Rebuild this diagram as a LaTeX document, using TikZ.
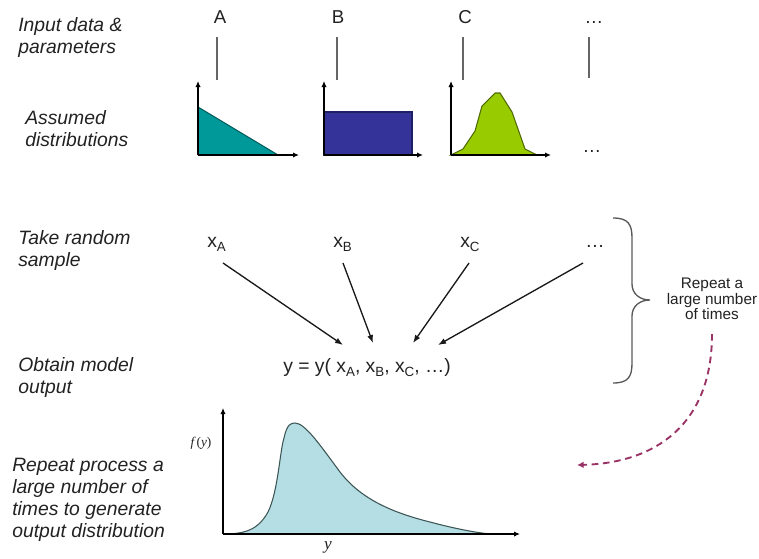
\documentclass[tikz,border=0pt]{standalone}
\usepackage{fontspec}
\setmainfont{Liberation Sans}
\newfontfamily\serifit{Liberation Serif}
\usetikzlibrary{arrows.meta}
\definecolor{txt}{HTML}{222222}
\definecolor{tealA}{HTML}{009999}
\definecolor{tealAline}{HTML}{005E5E}
\definecolor{blueB}{HTML}{333399}
\definecolor{blueBline}{HTML}{1F1F66}
\definecolor{greenC}{HTML}{99CC00}
\definecolor{greenCline}{HTML}{4F6A00}
\definecolor{outfill}{RGB}{180,222,228}
\definecolor{outline}{HTML}{3D5555}
\definecolor{dashcol}{HTML}{993366}
\tikzset{
  sidelabel/.style={anchor=north west,inner sep=0pt,align=left,text=txt,
    font=\fontsize{14.5pt}{16.5pt}\selectfont\itshape},
  toplabel/.style={anchor=base,inner sep=0pt,text=txt,font=\fontsize{14pt}{16pt}\selectfont},
  samplelabel/.style={anchor=base west,inner sep=0pt,text=txt,font=\fontsize{14.5pt}{16.5pt}\selectfont},
  tickline/.style={draw=black!60,line width=0.8pt},
  axis/.style={draw=black,line width=1pt,-{Latex[length=4.5pt,width=4pt]}},
  flow/.style={draw=black!90,line width=1pt,-{Latex[length=6pt,width=4.5pt]}},
}
\newcommand{\sub}[1]{\raisebox{-0.25em}{\fontsize{10pt}{12pt}\selectfont #1}}
\begin{document}
\begin{tikzpicture}[x=0.75pt,y=-0.75pt]
\useasboundingbox (0,0) rectangle (759,558);

% left labels
\node[sidelabel] (l1) at (18,17) {Input data \&\\parameters};
\node[sidelabel] (l2) at (25,110) {Assumed\\distributions};
\node[sidelabel] (l3) at (18,230) {Take random\\sample};
\node[sidelabel] (l4) at (18,357) {Obtain model\\output};
\node[sidelabel] (l5) at (12,458) {Repeat process a\\large number of\\times to generate\\output distribution};

% top labels
\node[toplabel] (A) at (220,23) {A};
\node[toplabel] (B) at (338,23) {B};
\node[toplabel] (C) at (465,23) {C};
\node[toplabel] (D) at (594,23) {…};

\draw[tickline] (217,37) -- (217,80);
\draw[tickline] (337,37) -- (337,80);
\draw[tickline] (463,37) -- (463,80);
\draw[tickline] (589,37) -- (589,78);

% chart A
\fill[tealA] (198,155) -- (198,107) -- (278,155) -- cycle;
\draw[tealAline,line width=0.8pt] (198,107) -- (278,155);
\draw[axis] (198,155) -- (198,81);
\draw[axis] (198,155) -- (299,155);

% chart B
\filldraw[fill=blueB,draw=blueBline,line width=0.8pt] (324,155) rectangle (412,112);
\draw[axis] (324,155) -- (324,81);
\draw[axis] (324,155) -- (423,155);

% chart C
\filldraw[fill=greenC,draw=greenCline,line width=0.8pt]
  (451,155) -- (463,149) -- (475,131) -- (482,106) -- (495,93) -- (500,93)
  -- (512,112) -- (525,149) -- (537,155) -- cycle;
\draw[axis] (451,155) -- (451,81);
\draw[axis] (451,155) -- (551,155);
\node[toplabel] (D2) at (592,152) {…};

% samples
\node[samplelabel] (xA) at (207,247) {x\sub{A}};
\node[samplelabel] (xB) at (333,247) {x\sub{B}};
\node[samplelabel] (xC) at (460,247) {x\sub{C}};
\node[samplelabel] (xD) at (585,247) {…};

\node[samplelabel] (eq) at (283,372) {y = y( x\sub{A}, x\sub{B}, x\sub{C}, …)};

\coordinate (eA) at (343,345);
\coordinate (eB) at (373,343);
\coordinate (eC) at (413,343);
\coordinate (eD) at (438,345);
\coordinate (sA) at (223,263);
\coordinate (sB) at (343,263);
\coordinate (sC) at (469,263);
\coordinate (sD) at (583,263);
\draw[flow] (sA) -- (eA);
\draw[flow] (sB) -- (eB);
\draw[flow] (sC) -- (eC);
\draw[flow] (sD) -- (eD);

% brace
\draw[black!65,line width=1pt] (613,218) .. controls (628,218) and (632,224) .. (632,238)
  -- (632,284) .. controls (632,294) and (640,300) .. (650,300)
  .. controls (640,300) and (632,306) .. (632,316)
  -- (632,363) .. controls (632,377) and (628,383) .. (613,383);

\node[align=center,inner sep=0pt,text=txt,font=\fontsize{11.5pt}{11.5pt}\selectfont] (rep) at (712,299)
  {Repeat a\\large number\\of times};

% dashed arrow
\coordinate (dS) at (712,334);
\coordinate (dE) at (577,465);
\draw[dashcol,line width=1.4pt,dash pattern=on 5pt off 3.5pt,-{Latex[length=5pt,width=5pt]}]
  (dS) .. controls (712,425) and (655,463) .. (dE);

% output distribution
\filldraw[fill=outfill,draw=outline,line width=0.8pt]
  (223,534) .. controls (245,534) and (258,530) .. (268,512)
  .. controls (278,492) and (280,450) .. (284,438)
  .. controls (287,424) and (291,423) .. (295,423)
  .. controls (305,423) and (320,445) .. (340,472)
  .. controls (360,498) and (390,512) .. (430,522)
  .. controls (460,530) and (480,533) .. (490,534) -- cycle;
\draw[axis,line width=1.1pt] (223,534) -- (223,408);
\draw[axis,line width=1.1pt] (223,534) -- (520,534);
\node[inner sep=0pt,text=txt,font=\fontsize{10pt}{12pt}\selectfont] (fy) at (201,443)
  {\serifit\itshape f\,\upshape(\itshape y\upshape)};
\node[inner sep=0pt,text=txt,font=\fontsize{13pt}{14pt}\selectfont] (yl) at (328,547)
  {\serifit\itshape y};
\end{tikzpicture}
\end{document}
